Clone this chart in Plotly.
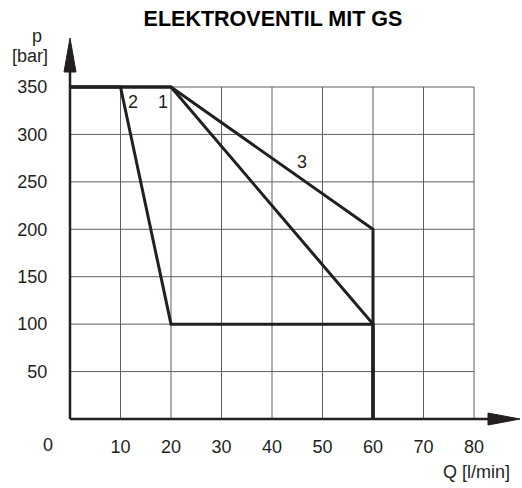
import plotly.graph_objects as go

# ---- data ----
title_text = "ELEKTROVENTIL MIT GS"
q1 = [0, 20, 60, 60]
p1 = [350, 350, 100, 0]
q2 = [0, 10, 20, 60, 60]
p2 = [350, 350, 100, 100, 0]
q3 = [0, 20, 60, 60]
p3 = [350, 350, 200, 0]
curve_names = ["1", "2", "3"]
label_pos_q = [18.4, 12.5, 45.9]
label_pos_p = [334, 334, 271]
x_ticks = [10, 20, 30, 40, 50, 60, 70, 80]
y_ticks = [50, 100, 150, 200, 250, 300, 350]
x_max_grid = 80
y_max_grid = 350

# ---- geometry ----
W, H = 522, 488
L, R, T, B = 70, 2, 36, 69
px_x = (474 - 70) / 80.0
px_y = (419 - 87) / 350.0
xr = (W - L - R) / px_x
yr = (H - T - B) / px_y

FONT = "Arial, Liberation Sans, Helvetica, sans-serif"
DARK = "#231f20"
GRID = "#5f5f5f"

def px2paper(px, py):
    return (px - L) / (W - L - R), (H - B - py) / (H - T - B)

fig = go.Figure()
for q, p, n in zip([q1, q2, q3], [p1, p2, p3], curve_names):
    fig.add_trace(go.Scatter(x=q, y=p, mode="lines", name=n,
                             line=dict(color=DARK, width=3),
                             showlegend=False, hoverinfo="skip", cliponaxis=False))

shapes = []
for xv in x_ticks:
    shapes.append(dict(type="line", x0=xv, x1=xv, y0=0, y1=y_max_grid,
                       xref="x", yref="y", line=dict(color=GRID, width=1), layer="below"))
for yv in y_ticks:
    shapes.append(dict(type="line", x0=0, x1=x_max_grid, y0=yv, y1=yv,
                       xref="x", yref="y", line=dict(color=GRID, width=1), layer="below"))

# axes with arrows (paper coords so they are not clipped)
ox, oy = px2paper(70, 419)
_, ay_tip = px2paper(70, 38)
_, ay_base = px2paper(70, 72)
ax_tip, _ = px2paper(520, 419)
ax_base, _ = px2paper(488, 419)
lx, _ = px2paper(64, 419)
rx, _ = px2paper(76, 419)
_, ly = px2paper(70, 425)
_, uy = px2paper(70, 413)
shapes.append(dict(type="line", x0=ox, x1=ox, y0=oy, y1=ay_base, xref="paper", yref="paper",
                   line=dict(color=DARK, width=2.5)))
shapes.append(dict(type="line", x0=ox, x1=ax_base, y0=oy, y1=oy, xref="paper", yref="paper",
                   line=dict(color=DARK, width=2.5)))
shapes.append(dict(type="path", xref="paper", yref="paper",
                   path=f"M {lx} {ay_base} L {rx} {ay_base} L {ox} {ay_tip} Z",
                   fillcolor=DARK, line=dict(color=DARK, width=1)))
shapes.append(dict(type="path", xref="paper", yref="paper",
                   path=f"M {ax_base} {ly} L {ax_base} {uy} L {ax_tip} {oy} Z",
                   fillcolor=DARK, line=dict(color=DARK, width=1)))

annotations = []
for n, qx, py in zip(curve_names, label_pos_q, label_pos_p):
    annotations.append(dict(x=qx, y=py, xref="x", yref="y", text=n, showarrow=False,
                            font=dict(family=FONT, size=18, color=DARK)))
for txt, px, py, xa in [("0", 48, 445, "center"), ("p", 37, 36, "center"),
                        ("[bar]", 30, 56, "center"), ("Q [l/min]", 512, 472, "right")]:
    ax_, ay_ = px2paper(px, py)
    annotations.append(dict(x=ax_, y=ay_, xref="paper", yref="paper", text=txt,
                            showarrow=False, xanchor=xa, yanchor="middle",
                            font=dict(family=FONT, size=18, color=DARK)))

fig.update_layout(
    width=W, height=H,
    margin=dict(l=L, r=R, t=T, b=B, pad=0),
    plot_bgcolor="white", paper_bgcolor="white",
    title=dict(text=f"<b>{title_text}</b>", xref="container", yref="container",
               x=273 / W, y=1 - 18 / H, xanchor="center", yanchor="middle",
               font=dict(family=FONT, size=21.5, color="#000000")),
    shapes=shapes, annotations=annotations,
    xaxis=dict(range=[0, xr], showgrid=False, zeroline=False, showline=False,
               tickvals=x_ticks, ticktext=[str(v) for v in x_ticks],
               ticks="outside", ticklen=11, tickcolor="rgba(0,0,0,0)",
               tickfont=dict(family=FONT, size=18, color=DARK), fixedrange=True),
    yaxis=dict(range=[0, yr], showgrid=False, zeroline=False, showline=False,
               tickvals=y_ticks, ticktext=[str(v) for v in y_ticks],
               ticks="outside", ticklen=18, tickcolor="rgba(0,0,0,0)",
               tickfont=dict(family=FONT, size=18, color=DARK), fixedrange=True),
)
fig.write_html("out.html", config={"displayModeBar": False},
               post_script="document.body.style.margin='0';document.body.style.overflow='hidden';")
